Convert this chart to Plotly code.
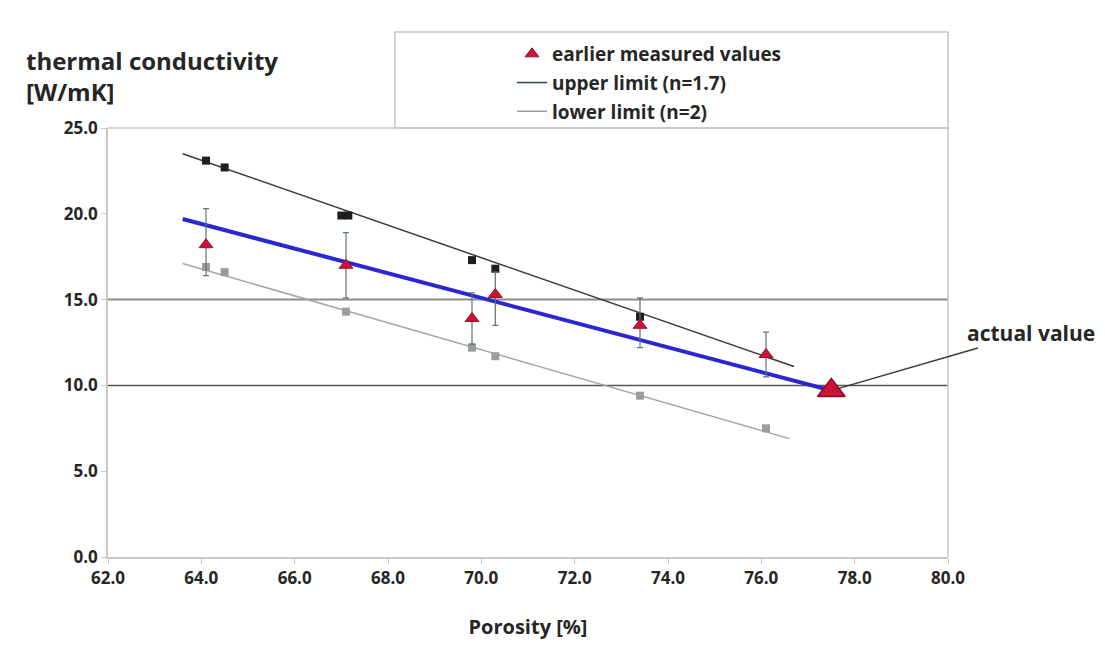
import plotly.graph_objects as go

# Porosity positions of the measurements
porosity = [64.1, 67.1, 69.8, 70.3, 73.4, 76.1]
measured = [18.2, 17.0, 13.9, 15.3, 13.5, 11.8]
err_plus = [2.1, 1.9, 1.5, 1.3, 1.6, 1.3]
err_minus = [1.8, 1.9, 1.5, 1.8, 1.3, 1.3]

# Model points, upper limit (n=1.7)
upper_x = [64.1, 64.5, 67.0, 67.15, 69.8, 70.3, 73.4]
upper_y = [23.1, 22.7, 19.9, 19.9, 17.3, 16.8, 14.0]
upper_line_x = [63.6, 76.7]
upper_line_y = [23.5, 11.1]

# Model points, lower limit (n=2)
lower_x = [64.1, 64.5, 67.1, 69.8, 70.3, 73.4, 76.1]
lower_y = [16.9, 16.6, 14.3, 12.2, 11.7, 9.4, 7.5]
lower_line_x = [63.6, 76.6]
lower_line_y = [17.1, 6.9]

# Trend through the measured values
trend_x = [63.6, 77.5]
trend_y = [19.7, 9.7]

# Current measurement
actual_x = [77.5]
actual_y = [9.7]

x_ticks = [62.0, 64.0, 66.0, 68.0, 70.0, 72.0, 74.0, 76.0, 78.0, 80.0]
y_ticks = [0.0, 5.0, 10.0, 15.0, 20.0, 25.0]

FONT = "Open Sans"
TXT = "#262626"
RED = "#cc1236"

fig = go.Figure()

fig.add_trace(go.Scatter(
    x=lower_line_x, y=lower_line_y, mode="lines",
    line=dict(color="#a6a6a6", width=1.5), showlegend=False, hoverinfo="skip"))
fig.add_trace(go.Scatter(
    x=upper_line_x, y=upper_line_y, mode="lines",
    line=dict(color="#3a3a3a", width=1.5), showlegend=False, hoverinfo="skip"))

fig.add_trace(go.Scatter(
    x=lower_x, y=lower_y, mode="markers",
    marker=dict(symbol="square", size=8, color="#9c9c9c"),
    showlegend=False))
fig.add_trace(go.Scatter(
    x=upper_x, y=upper_y, mode="markers",
    marker=dict(symbol="square", size=8, color="#1e1e1e"),
    showlegend=False))

fig.add_trace(go.Scatter(
    x=trend_x, y=trend_y, mode="lines",
    line=dict(color="#2a27d2", width=4), showlegend=False))

fig.add_trace(go.Scatter(
    x=porosity, y=measured, mode="markers",
    name="<b>earlier measured values</b>",
    marker=dict(symbol="triangle-up", size=12, color=RED,
                line=dict(color="#9e0f2c", width=1)),
    error_y=dict(type="data", symmetric=False, array=err_plus,
                 arrayminus=err_minus, color="#5b7674",
                 thickness=1.2, width=3),
    legendgroup="a"))

fig.add_trace(go.Scatter(
    x=actual_x, y=actual_y, mode="markers",
    marker=dict(symbol="triangle-up", size=24, color=RED,
                line=dict(color="#8e0c27", width=1.5)),
    showlegend=False))

# legend entries for the two limit curves
fig.add_trace(go.Scatter(
    x=[None], y=[None], mode="lines", name="<b>upper limit (n=1.7)</b>",
    line=dict(color="#2f4544", width=1.5), legendgroup="b"))
fig.add_trace(go.Scatter(
    x=[None], y=[None], mode="lines", name="<b>lower limit (n=2)</b>",
    line=dict(color="#9a9a9a", width=1.5), legendgroup="c"))

shapes = [
    # horizontal reference lines
    dict(type="line", xref="paper", x0=0, x1=1, yref="y", y0=15, y1=15,
         line=dict(color="#8a8a8a", width=2), layer="below"),
    dict(type="line", xref="paper", x0=0, x1=1, yref="y", y0=10, y1=10,
         line=dict(color="#555555", width=1.5), layer="below"),
    # plot frame
    dict(type="line", xref="paper", x0=1, x1=1, yref="paper", y0=0, y1=1,
         line=dict(color="#c8c8c8", width=1.5)),
    dict(type="line", xref="paper", x0=0, x1=1, yref="paper", y0=1, y1=1,
         line=dict(color="#c8c8c8", width=1.5)),
    # legend box
    dict(type="rect", xref="paper", yref="paper",
         x0=(395 - 108) / 840, x1=1.0, y0=1.0, y1=(557 - 32) / 429,
         line=dict(color="#c4c4c4", width=1.5), fillcolor="rgba(0,0,0,0)"),
]

annotations = [
    dict(xref="paper", yref="paper", x=-84 / 840, y=(557 - 42) / 429,
         xanchor="left", yanchor="top", align="left", showarrow=False,
         text="<b>thermal conductivity<br>[W/mK]</b>",
         font=dict(family=FONT, size=24, color=TXT)),
    dict(x=actual_x[0], y=actual_y[0], xref="x", yref="y",
         text="<b>actual value</b>", showarrow=True, arrowhead=0,
         arrowwidth=1.5, arrowcolor="#3a3a3a", ax=200, ay=-58,
         standoff=6, font=dict(family=FONT, size=21, color=TXT)),
]

fig.update_layout(
    width=1105, height=655,
    margin=dict(l=108, r=157, t=128, b=98),
    paper_bgcolor="white", plot_bgcolor="white",
    font=dict(family=FONT, color=TXT),
    showlegend=True,
    legend=dict(
        x=(512 - 108) / 840, y=(557 - 35) / 429, xanchor="left", yanchor="top",
        bgcolor="rgba(0,0,0,0)", borderwidth=0,
        font=dict(family=FONT, size=19, color=TXT),
        tracegroupgap=1, itemwidth=30,
        traceorder="grouped"),
    shapes=shapes,
    annotations=annotations,
    xaxis=dict(
        range=[62, 80], tickmode="array", tickvals=x_ticks,
        ticktext=[f"<b>{v:.1f}</b>" for v in x_ticks],
        showgrid=False, zeroline=False,
        showline=True, linecolor="#c8c8c8", linewidth=1.5,
        ticks="outside", ticklen=5, tickcolor="#c8c8c8",
        tickfont=dict(family=FONT, size=17, color=TXT),
        title=dict(text="<b>Porosity [%]</b>",
                   font=dict(family=FONT, size=20, color=TXT), standoff=32),
    ),
    yaxis=dict(
        range=[0, 25], tickmode="array", tickvals=y_ticks,
        ticktext=[f"<b>{v:.1f}</b>" for v in y_ticks],
        showgrid=False, zeroline=False,
        showline=True, linecolor="#c8c8c8", linewidth=1.5,
        ticks="outside", ticklen=5, tickcolor="#c8c8c8",
        tickfont=dict(family=FONT, size=17, color=TXT),
    ),
)

fig.write_html("out.html")
